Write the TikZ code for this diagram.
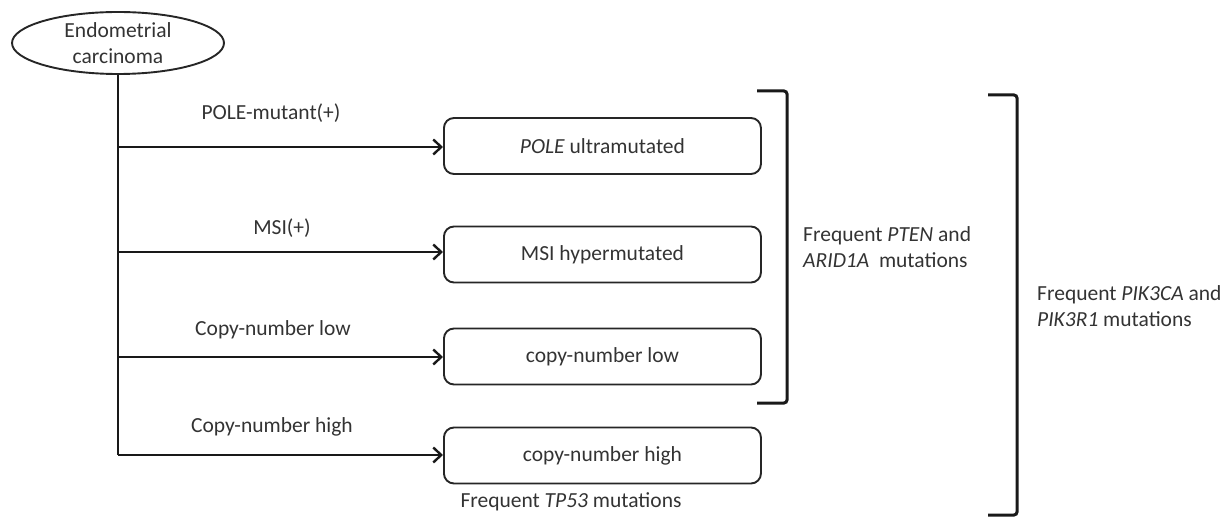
\documentclass[tikz,border=0pt]{standalone}
\usepackage{fontspec}
\setmainfont{Carlito}
\usetikzlibrary{shapes.geometric,arrows.meta}
\definecolor{txt}{HTML}{333333}
\begin{document}
\begin{tikzpicture}[x=1pt,y=-1pt,
  every node/.style={font=\fontsize{21.5}{26}\selectfont, text=txt},
  lab/.style={inner sep=0pt},
  sbox/.style={draw=black!85, line width=1.9pt, rounded corners=10pt, minimum width=317pt, minimum height=56pt, inner sep=0pt, anchor=west},
  arr/.style={line width=2.8pt, draw=black!90, -{Straight Barb[length=8pt,width=15pt,line width=2.4pt]}},
  trunk/.style={line width=2.8pt, draw=black!90},
  brk/.style={line width=3pt, draw=black!90, rounded corners=3pt}]
\useasboundingbox (0,0) rectangle (1228,518);
\node[ellipse, draw=black!85, line width=1.9pt, minimum width=212pt, minimum height=62pt, inner sep=0pt, align=center] (ec) at (118,43) {Endometrial\\carcinoma};
\node[sbox] (b1) at (443,146) {\textit{POLE} ultramutated};
\node[sbox] (b2) at (443,254.5) {MSI hypermutated};
\node[sbox] (b3) at (443,356.5) {copy-number low};
\node[sbox] (b4) at (443,455.5) {copy-number high};
\coordinate (j1) at (118,147);
\coordinate (j2) at (118,252);
\coordinate (j3) at (118,357);
\coordinate (j4) at (118,455);
\draw[trunk] (ec.south) -- (j4);
\draw[arr] (j1) -- (j1 -| b1.west);
\draw[arr] (j2) -- (j2 -| b2.west);
\draw[arr] (j3) -- (j3 -| b3.west);
\draw[arr] (j4) -- (j4 -| b4.west);
\node[lab] (l1) at (271,113) {POLE-mutant(+)};
\node[lab] (l2) at (282,228) {MSI(+)};
\node[lab] (l3) at (273,330) {Copy-number low};
\node[lab] (l4) at (272,427) {Copy-number high};
\node[lab] (tp) at (571,502) {Frequent \textit{TP53} mutations};
\coordinate (k1a) at (757,91);
\coordinate (k1b) at (787,91);
\coordinate (k1c) at (787,403);
\coordinate (k1d) at (757,403);
\draw[brk] (k1a) -- (k1b) -- (k1c) -- (k1d);
\coordinate (k2a) at (988,95);
\coordinate (k2b) at (1017,95);
\coordinate (k2c) at (1017,515);
\coordinate (k2d) at (988,515);
\draw[brk] (k2a) -- (k2b) -- (k2c) -- (k2d);
\node[lab, anchor=west, align=left] (t1) at (803,247.5) {Frequent \textit{PTEN} and\\\textit{ARID1A}~ mutations};
\node[lab, anchor=west, align=left] (t2) at (1037,306.5) {Frequent \textit{PIK3CA} and\\\textit{PIK3R1} mutations};
\end{tikzpicture}
\end{document}
